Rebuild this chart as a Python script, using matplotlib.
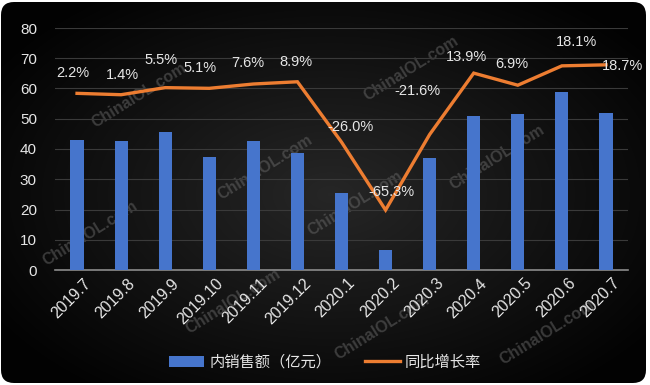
import matplotlib
matplotlib.use("Agg")
import matplotlib.pyplot as plt
import matplotlib.transforms as mtrans
import numpy as np
from matplotlib import font_manager
from matplotlib.patches import FancyBboxPatch

# --- dati ---
months = ["2019.7", "2019.8", "2019.9", "2019.10", "2019.11", "2019.12",
          "2020.1", "2020.2", "2020.3", "2020.4", "2020.5", "2020.6", "2020.7"]
sales = [43.0, 42.5, 45.7, 37.5, 42.5, 38.6, 25.5, 6.6, 36.9, 51.0, 51.6, 58.7, 51.8]
growth = [2.2, 1.4, 5.5, 5.1, 7.6, 8.9, -26.0, -65.3, -21.6, 13.9, 6.9, 18.1, 18.7]

# posizione etichette (pixel rispetto al punto)
label_offsets = [(-4, 20), (1, 20), (-4, 28), (-9, 20), (-6, 21), (-1, 20),
                 (9, 15), (6, 18), (-12, 43), (-7, 16), (-6, 21), (15, 24), (17, -1)]

C_BAR = "#4675CC"
C_LINE = "#ED7D31"
C_TEXT = "#E6E6E6"

names = {f.name for f in font_manager.fontManager.ttflist}
if "Liberation Sans Narrow" in names:
    NARROW, LBL_SIZE = "Liberation Sans Narrow", 11.5
else:
    NARROW, LBL_SIZE = "Liberation Sans", 10.5
plt.rcParams["font.family"] = ["Liberation Sans", "Noto Sans CJK SC", "DejaVu Sans"]

W, H = 650, 385
fig = plt.figure(figsize=(W / 100, H / 100), dpi=100, facecolor="white")

# --- sfondo arrotondato con gradiente ---
bg = fig.add_axes([0, 0, 1, 1], zorder=-5)
bg.set_xlim(0, W)
bg.set_ylim(0, H)
bg.axis("off")
yy, xx = np.mgrid[0:H, 0:W]
r = np.sqrt(((xx - 330) / 420) ** 2 + ((yy - 190) / 260) ** 2)
shade = np.clip(0.15 - 0.15 * r, 0.01, 0.15)
img = bg.imshow(np.dstack([shade] * 3), extent=(0, W, 0, H), origin="lower", aspect="auto")
box = FancyBboxPatch((1, 2), 645, 381, boxstyle="round,pad=0,rounding_size=13",
                     facecolor="none", edgecolor="none", transform=bg.transData)
bg.add_patch(box)
img.set_clip_path(box)

# watermark
marks = [(139, 290), (265, 218), (90, 152), (233, 84), (355, 182),
         (411, 317), (497, 228), (547, 53), (382, 58)]
for mx, my in marks:
    bg.text(mx, my, "ChinaIOL.com", color="#6a6a6a", alpha=0.5, fontsize=11.5,
            fontweight="bold", rotation=32, ha="center", va="center", zorder=2)

# --- assi ---
ax = fig.add_axes([55 / W, 1 - 270 / H, (628 - 55) / W, (270 - 28) / H])
ax.set_facecolor("none")
x = np.arange(len(months))
ax.bar(x, sales, width=0.3, color=C_BAR, label="内销售额（亿元）", zorder=3)
ax.set_xlim(-0.5, len(months) - 0.5)
ax.set_ylim(0, 80)
ax.set_yticks(range(0, 81, 10))
ax.grid(axis="y", color="#3a3a3a", linewidth=0.8, zorder=0)
for s in ["top", "right", "left"]:
    ax.spines[s].set_visible(False)
ax.spines["bottom"].set_color("#8c8c8c")
ax.spines["bottom"].set_linewidth(1.2)
ax.tick_params(axis="both", length=0, colors=C_TEXT, labelsize=11)
ax.tick_params(axis="y", pad=13)
ax.set_xticks(x)
ax.set_xticklabels(months, rotation=45, ha="right", va="top", rotation_mode="anchor")
ax.tick_params(axis="x", pad=4)
for t in ax.get_xticklabels():
    t.set_fontsize(11.5)
    t.set_transform(t.get_transform() + mtrans.ScaledTranslation(0.06, 0, fig.dpi_scale_trans))

ax2 = ax.twinx()
ax2.set_ylim(-100, 40)
ax2.axis("off")
ax2.plot(x, growth, color=C_LINE, linewidth=2.4, label="同比增长率", zorder=4,
         solid_joinstyle="miter")
for xi, gi, (dx, dy) in zip(x, growth, label_offsets):
    ax2.annotate(f"{gi:.1f}%", (xi, gi), xytext=(dx, dy), textcoords="offset pixels",
                 ha="center", va="center", color=C_TEXT, fontsize=LBL_SIZE,
                 family=NARROW, zorder=6)

# --- legenda ---
h1, l1 = ax.get_legend_handles_labels()
h2, l2 = ax2.get_legend_handles_labels()
fig.legend(h1 + h2, l1 + l2, loc="center", bbox_to_anchor=(0.5, 1 - 362 / H),
           ncol=2, frameon=False, handlelength=2.3,
           columnspacing=2.2, handletextpad=0.3, labelcolor=C_TEXT,
           prop={"family": ["Noto Sans CJK SC", "DejaVu Sans"], "size": 11})

fig.savefig("out.png", dpi=100, facecolor="white")
